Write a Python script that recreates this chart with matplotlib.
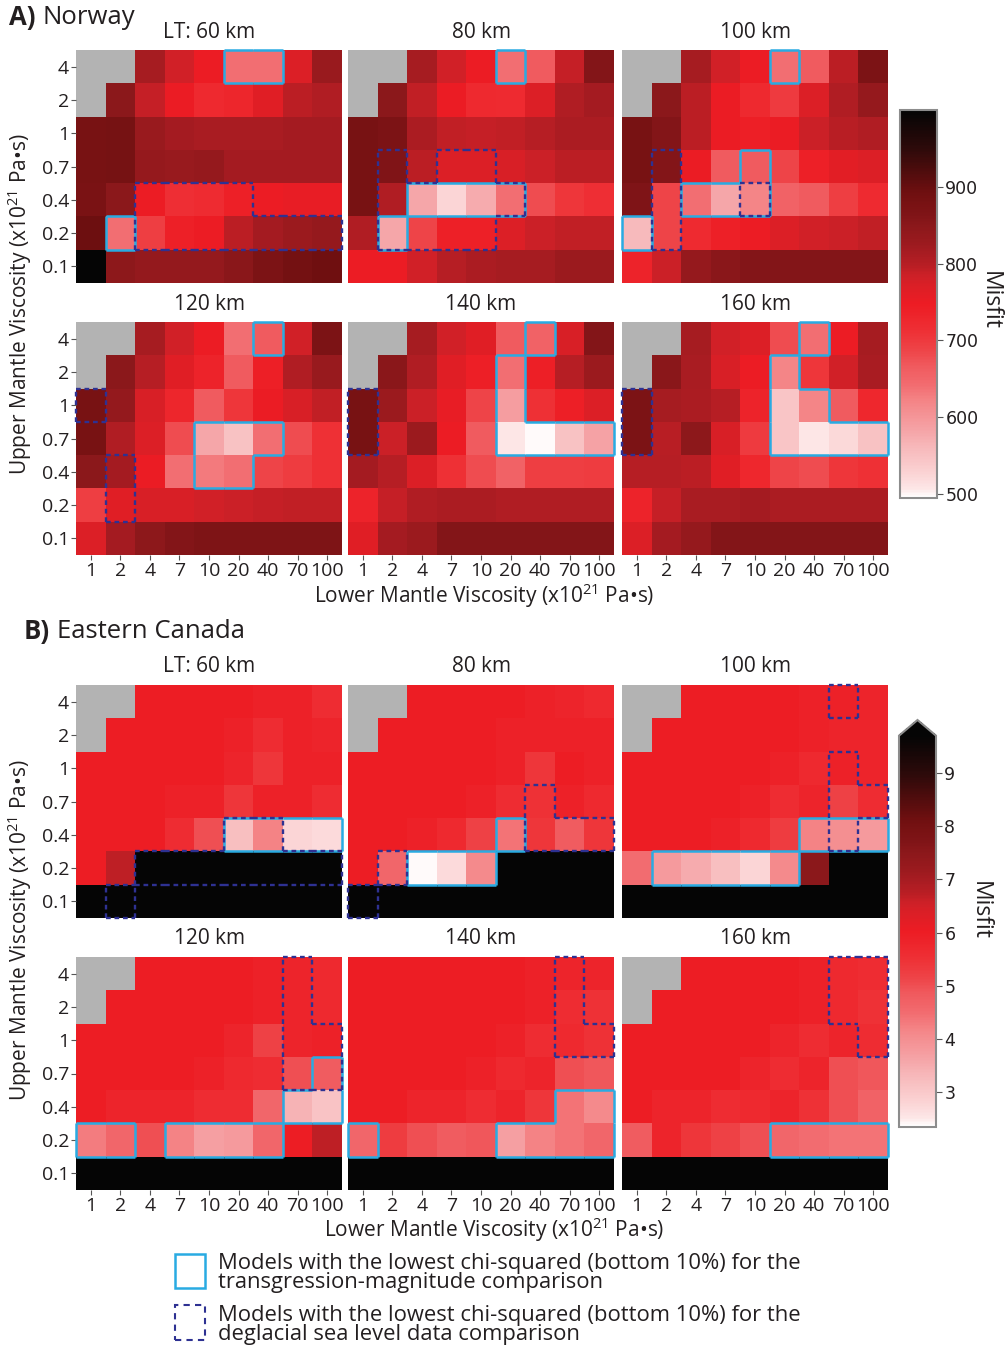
import numpy as np
import matplotlib
matplotlib.use('Agg')
import matplotlib.pyplot as plt
from matplotlib.colors import LinearSegmentedColormap, Normalize
from matplotlib.cm import ScalarMappable
from matplotlib.collections import LineCollection
from matplotlib.patches import Rectangle

plt.rcParams['font.family'] = ['Open Sans', 'DejaVu Sans']
plt.rcParams['mathtext.fontset'] = 'custom'
plt.rcParams['mathtext.rm'] = 'Open Sans'
plt.rcParams['mathtext.it'] = 'Open Sans:italic'
plt.rcParams['mathtext.bf'] = 'Open Sans:bold'

nan = np.nan

# axis categories
lower_visc = [1, 2, 4, 7, 10, 20, 40, 70, 100]
upper_visc = [0.1, 0.2, 0.4, 0.7, 1, 2, 4]
lower_labels = ['1', '2', '4', '7', '10', '20', '40', '70', '100']
upper_labels = ['0.1', '0.2', '0.4', '0.7', '1', '2', '4']
thickness = ['LT: 60 km', '80 km', '100 km', '120 km', '140 km', '160 km']

# misfit grids, rows from upper viscosity 4 (top) down to 0.1
norway_60 = [
    [nan, nan, 815, 780, 748, 640, 640, 770, 830],
    [nan, 850, 790, 750, 725, 730, 765, 795, 805],
    [878, 880, 830, 818, 812, 812, 812, 818, 818],
    [878, 880, 835, 832, 835, 818, 818, 818, 818],
    [875, 850, 748, 715, 720, 740, 748, 755, 755],
    [895, 640, 695, 740, 748, 795, 818, 828, 835],
    [1000, 848, 838, 838, 838, 852, 870, 885, 892]]
norway_80 = [
    [nan, nan, 815, 780, 748, 640, 665, 790, 858],
    [nan, 850, 792, 750, 725, 722, 770, 805, 818],
    [878, 870, 810, 792, 790, 792, 800, 810, 810],
    [878, 862, 795, 770, 770, 775, 785, 795, 795],
    [878, 805, 580, 525, 575, 640, 680, 705, 715],
    [805, 580, 688, 740, 740, 770, 785, 792, 792],
    [748, 748, 780, 800, 810, 816, 816, 828, 828]]
norway_100 = [
    [nan, nan, 815, 780, 748, 640, 665, 795, 870],
    [nan, 850, 795, 750, 725, 700, 770, 805, 835],
    [878, 858, 795, 750, 742, 750, 785, 798, 805],
    [878, 858, 750, 665, 665, 688, 740, 762, 770],
    [865, 688, 640, 580, 620, 655, 665, 695, 722],
    [560, 688, 722, 740, 748, 770, 780, 785, 792],
    [735, 785, 835, 852, 858, 858, 858, 858, 858]]
norway_120 = [
    [nan, nan, 815, 780, 748, 640, 665, 780, 870],
    [nan, 850, 800, 765, 735, 665, 742, 805, 832],
    [878, 838, 775, 730, 665, 705, 750, 775, 792],
    [878, 805, 770, 680, 580, 550, 640, 680, 712],
    [850, 818, 750, 640, 630, 640, 688, 698, 712],
    [695, 765, 775, 775, 780, 785, 790, 792, 792],
    [770, 818, 848, 858, 866, 866, 866, 866, 866]]
norway_140 = [
    [nan, nan, 815, 780, 765, 665, 655, 775, 858],
    [nan, 852, 805, 765, 742, 640, 742, 800, 828],
    [878, 828, 785, 755, 688, 590, 712, 742, 770],
    [878, 785, 828, 748, 665, 508, 497, 550, 585],
    [818, 800, 770, 712, 680, 655, 695, 695, 698],
    [735, 790, 805, 810, 810, 805, 805, 805, 805],
    [765, 818, 828, 858, 858, 858, 858, 858, 858]]
norway_160 = [
    [nan, nan, 815, 780, 770, 680, 640, 748, 815],
    [nan, 852, 812, 775, 748, 620, 705, 780, 812],
    [870, 815, 810, 800, 735, 545, 620, 665, 728],
    [870, 798, 848, 775, 700, 545, 508, 522, 550],
    [800, 800, 795, 765, 728, 688, 680, 705, 712],
    [735, 790, 812, 812, 818, 810, 810, 810, 810],
    [770, 818, 835, 858, 858, 858, 858, 858, 858]]

canada_60 = [
    [nan, nan, 6.0, 6.0, 6.0, 6.0, 5.9, 5.9, 5.6],
    [nan, 6.0, 6.0, 6.0, 6.0, 5.9, 5.6, 5.9, 5.8],
    [6.0, 6.0, 6.0, 6.0, 6.0, 5.8, 5.4, 5.9, 5.9],
    [6.0, 6.0, 6.0, 5.9, 5.9, 5.4, 5.9, 5.9, 5.6],
    [6.0, 6.0, 6.0, 5.6, 5.0, 3.2, 4.2, 2.8, 2.7],
    [6.0, 6.7, 10.0, 10.0, 10.0, 10.0, 10.0, 10.0, 10.0],
    [10.0, 10.0, 10.0, 10.0, 10.0, 10.0, 10.0, 10.0, 10.0]]
canada_80 = [
    [nan, nan, 6.0, 6.0, 6.0, 6.0, 5.9, 5.8, 5.7],
    [nan, 6.0, 6.0, 6.0, 6.0, 5.9, 5.9, 5.9, 5.9],
    [6.0, 6.0, 6.0, 6.0, 6.0, 5.9, 5.4, 6.0, 5.9],
    [6.0, 6.0, 6.0, 6.0, 5.9, 5.6, 5.5, 5.9, 5.7],
    [6.0, 6.0, 5.9, 5.7, 5.2, 4.4, 5.4, 4.8, 5.4],
    [6.0, 4.6, 2.4, 2.7, 4.1, 10.0, 10.0, 10.0, 10.0],
    [10.0, 10.0, 10.0, 10.0, 10.0, 10.0, 10.0, 10.0, 10.0]]
canada_100 = [
    [nan, nan, 6.0, 6.0, 6.0, 6.0, 5.9, 5.9, 5.8],
    [nan, 6.0, 6.0, 6.0, 6.0, 6.0, 5.9, 5.8, 5.8],
    [6.0, 6.0, 6.0, 6.0, 6.0, 5.9, 5.7, 5.9, 5.8],
    [6.0, 6.0, 6.0, 6.0, 5.9, 5.6, 5.8, 5.2, 5.6],
    [6.0, 6.0, 6.0, 5.9, 5.7, 5.3, 4.2, 4.0, 3.8],
    [4.5, 3.8, 3.5, 3.2, 2.8, 4.1, 7.5, 10.0, 10.0],
    [10.0, 10.0, 10.0, 10.0, 10.0, 10.0, 10.0, 10.0, 10.0]]
canada_120 = [
    [nan, nan, 6.0, 6.0, 6.0, 6.0, 5.9, 5.8, 5.7],
    [nan, 6.0, 6.0, 6.0, 6.0, 6.0, 5.9, 5.8, 5.7],
    [6.0, 6.0, 6.0, 6.0, 6.0, 5.8, 5.2, 5.8, 5.9],
    [6.0, 6.0, 6.0, 6.0, 5.9, 5.7, 5.6, 5.0, 4.8],
    [6.0, 5.8, 5.8, 5.8, 5.6, 5.6, 4.6, 3.4, 3.1],
    [4.3, 4.6, 5.0, 4.2, 3.7, 3.8, 4.6, 6.0, 6.7],
    [10.0, 10.0, 10.0, 10.0, 10.0, 10.0, 10.0, 10.0, 10.0]]
canada_140 = [
    [6.0, 6.0, 6.0, 6.0, 6.0, 6.0, 5.9, 5.8, 5.8],
    [6.0, 6.0, 6.0, 6.0, 6.0, 6.0, 5.9, 5.6, 5.5],
    [6.0, 6.0, 6.0, 6.0, 6.0, 5.9, 5.6, 5.7, 5.5],
    [6.0, 6.0, 6.0, 6.0, 5.9, 5.7, 5.8, 5.0, 4.9],
    [6.0, 6.0, 5.8, 5.8, 5.6, 5.8, 5.4, 4.4, 4.1],
    [4.6, 5.3, 5.0, 4.8, 4.9, 3.7, 4.2, 4.4, 4.6],
    [10.0, 10.0, 10.0, 10.0, 10.0, 10.0, 10.0, 10.0, 10.0]]
canada_160 = [
    [nan, nan, 6.0, 6.0, 6.0, 6.0, 5.9, 5.7, 5.6],
    [nan, 6.0, 6.0, 6.0, 6.0, 6.0, 5.9, 5.7, 5.5],
    [6.0, 6.0, 6.0, 6.0, 6.0, 5.8, 5.6, 5.8, 5.6],
    [6.0, 6.0, 6.0, 6.0, 5.8, 5.6, 5.8, 5.0, 4.9],
    [6.0, 5.8, 5.8, 5.6, 5.7, 5.8, 5.5, 5.0, 4.7],
    [4.8, 5.8, 5.4, 5.2, 5.0, 4.6, 4.5, 4.4, 4.4],
    [10.0, 10.0, 10.0, 10.0, 10.0, 10.0, 10.0, 10.0, 10.0]]

# best-fit models as (upper, lower) viscosity pairs
# solid = transgression-magnitude comparison, dashed = deglacial sea level
norway_solid = [
    [(4, 20), (4, 40), (0.2, 2)],
    [(4, 20), (0.4, 4), (0.4, 7), (0.4, 10), (0.4, 20), (0.2, 2)],
    [(4, 20), (0.7, 10), (0.4, 4), (0.4, 7), (0.4, 10), (0.2, 1)],
    [(4, 40), (0.7, 10), (0.7, 20), (0.7, 40), (0.4, 10), (0.4, 20)],
    [(4, 40), (2, 20), (1, 20), (0.7, 20), (0.7, 40), (0.7, 70), (0.7, 100)],
    [(4, 40), (2, 20), (1, 20), (1, 40), (0.7, 20), (0.7, 40), (0.7, 70), (0.7, 100)]]
norway_dashed = [
    [(0.4, 4), (0.4, 7), (0.4, 10), (0.4, 20), (0.2, 4), (0.2, 7), (0.2, 10),
     (0.2, 20), (0.2, 40), (0.2, 70), (0.2, 100)],
    [(0.7, 2), (0.7, 7), (0.7, 10), (0.4, 2), (0.4, 4), (0.4, 7), (0.4, 10),
     (0.4, 20), (0.2, 2), (0.2, 4), (0.2, 7), (0.2, 10)],
    [(0.7, 2), (0.4, 2), (0.2, 2), (0.4, 10)],
    [(1, 1), (0.4, 2), (0.2, 2)],
    [(1, 1), (0.7, 1)],
    [(1, 1), (0.7, 1)]]
canada_solid = [
    [(0.4, 20), (0.4, 40), (0.4, 70), (0.4, 100)],
    [(0.4, 20), (0.2, 4), (0.2, 7), (0.2, 10)],
    [(0.4, 40), (0.4, 70), (0.4, 100), (0.2, 2), (0.2, 4), (0.2, 7), (0.2, 10), (0.2, 20)],
    [(0.7, 100), (0.4, 70), (0.4, 100), (0.2, 1), (0.2, 2), (0.2, 7), (0.2, 10),
     (0.2, 20), (0.2, 40)],
    [(0.2, 1), (0.2, 20), (0.2, 40), (0.2, 70), (0.2, 100), (0.4, 70), (0.4, 100)],
    [(0.2, 20), (0.2, 40), (0.2, 70), (0.2, 100)]]
canada_dashed = [
    [(0.4, 20), (0.4, 40), (0.2, 4), (0.2, 7), (0.2, 10), (0.2, 20), (0.2, 40),
     (0.2, 70), (0.2, 100), (0.1, 2)],
    [(0.7, 40), (0.4, 40), (0.4, 70), (0.4, 100), (0.2, 2), (0.1, 1)],
    [(4, 70), (1, 70), (0.7, 70), (0.7, 100), (0.4, 70)],
    [(4, 70), (2, 70), (1, 70), (0.7, 70), (1, 100), (0.7, 100)],
    [(4, 70), (2, 70), (1, 70), (1, 100)],
    [(4, 70), (4, 100), (2, 70), (2, 100), (1, 100)]]

W, H = 1005, 1351
fig = plt.figure(figsize=(W / 100, H / 100), dpi=100)

cmap = LinearSegmentedColormap.from_list('misfit', [
    (0.00, '#ffffff'), (0.02, '#fde8e8'), (0.06, '#fbd4d5'), (0.13, '#f7b8ba'),
    (0.17, '#f5a5a8'), (0.25, '#f48486'), (0.29, '#f26c70'), (0.34, '#f05a5e'),
    (0.38, '#ee4448'), (0.43, '#ee3035'), (0.50, '#ed1c24'), (0.545, '#dc1f26'),
    (0.575, '#cc2027'), (0.60, '#b81e24'), (0.63, '#a81c22'), (0.66, '#9a1a1e'),
    (0.70, '#8c181b'), (0.73, '#801417'), (0.76, '#781213'), (0.79, '#6e0f10'),
    (0.90, '#2e0a0a'), (1.00, '#050505')])
cmap.set_bad('#b3b3b3')
cmap.set_over('#050505')

BLUE = '#29abe2'
NAVY = '#2e3192'
INK = '#231f20'


def px_rect(left, top, width, height):
    return [left / W, 1 - (top + height) / H, width / W, height / H]


def outline(ax, cells, **kw):
    idx = {(upper_visc.index(u), lower_visc.index(l)) for u, l in cells}
    segs = []
    for r, c in idx:
        if (r - 1, c) not in idx:
            segs.append([(c, r), (c + 1, r)])
        if (r + 1, c) not in idx:
            segs.append([(c, r + 1), (c + 1, r + 1)])
        if (r, c - 1) not in idx:
            segs.append([(c, r), (c, r + 1)])
        if (r, c + 1) not in idx:
            segs.append([(c + 1, r), (c + 1, r + 1)])
    lc = LineCollection(segs, clip_on=False, zorder=3, **kw)
    ax.add_collection(lc)


def panel(rect, grid, solid, dashed, norm, title, show_x, show_y):
    ax = fig.add_axes(rect)
    z = np.ma.masked_invalid(np.flipud(np.array(grid, dtype=float)))
    ax.set_facecolor('#b3b3b3')
    ax.pcolormesh(np.arange(10), np.arange(8), z, cmap=cmap, norm=norm)
    ax.set_xlim(0, 9)
    ax.set_ylim(0, 7)
    ax.set_xticks(np.arange(9) + 0.5)
    ax.set_yticks(np.arange(7) + 0.5)
    ax.set_xticklabels(lower_labels if show_x else [])
    ax.set_yticklabels(upper_labels if show_y else [])
    ax.tick_params(width=0.8, color='#555555', pad=1.5, labelsize=14, labelcolor=INK)
    ax.tick_params(axis='x', length=3.5 if show_x else 0)
    ax.tick_params(axis='y', length=3.5 if show_y else 0)
    for s in ax.spines.values():
        s.set_visible(False)
    outline(ax, solid, colors=BLUE, linewidths=1.8)
    outline(ax, dashed, colors=NAVY, linewidths=1.7, linestyles=[(0, (2.0, 1.6))])
    cx = rect[0] + rect[2] / 2
    fig.text(cx, rect[1] + rect[3] + 18 / H, title, ha='center', va='center',
             fontsize=15, color=INK)
    return ax


col_left = [76, 348, 622]
panel_w, panel_h = 266, 233
norway_norm = Normalize(495, 1000)
canada_norm = Normalize(2.35, 9.7)

norway_grids = [norway_60, norway_80, norway_100, norway_120, norway_140, norway_160]
canada_grids = [canada_60, canada_80, canada_100, canada_120, canada_140, canada_160]

for k in range(6):
    row, col = divmod(k, 3)
    top = [50, 322][row]
    panel(px_rect(col_left[col], top, panel_w, panel_h), norway_grids[k],
          norway_solid[k], norway_dashed[k], norway_norm, thickness[k],
          show_x=(row == 1), show_y=(col == 0))
    top = [685, 957][row]
    panel(px_rect(col_left[col], top, panel_w, panel_h), canada_grids[k],
          canada_solid[k], canada_dashed[k], canada_norm, thickness[k],
          show_x=(row == 1), show_y=(col == 0))

# colour bars
cax1 = fig.add_axes(px_rect(900, 110, 37, 388))
cb1 = fig.colorbar(ScalarMappable(norway_norm, cmap), cax=cax1, ticks=[500, 600, 700, 800, 900])
cax2 = fig.add_axes(px_rect(899, 720, 37, 407))
cb2 = fig.colorbar(ScalarMappable(canada_norm, cmap), cax=cax2, extend='max',
                   extendfrac=0.04, ticks=[3, 4, 5, 6, 7, 8, 9])
for cb in (cb1, cb2):
    cb.outline.set_edgecolor('#8c8c8c')
    cb.outline.set_linewidth(1.5)
    cb.ax.tick_params(length=4, width=0.8, color='#555555', labelsize=12.5,
                      labelcolor=INK, pad=2)
    for t in cb.ax.get_yticklabels():
        t.set_fontfamily('DejaVu Sans')
fig.text(990 / W, 1 - 300 / H, 'Misfit', rotation=-90, ha='center', va='center',
         fontsize=16.5, color=INK)
fig.text(980 / W, 1 - 910 / H, 'Misfit', rotation=-90, ha='center', va='center',
         fontsize=16.5, color=INK)

# axis titles
xl = 'Lower Mantle Viscosity (x10$^{21}$ Pa\u2022s)'
yl = 'Upper Mantle Viscosity (x10$^{21}$ Pa\u2022s)'
fig.text(484 / W, 1 - 596 / H, xl, ha='center', va='center', fontsize=15, color=INK)
fig.text(494 / W, 1 - 1230 / H, xl, ha='center', va='center', fontsize=15, color=INK)
fig.text(20 / W, 1 - 304 / H, yl, rotation=90, ha='center', va='center',
         fontsize=15, color=INK)
fig.text(20 / W, 1 - 930 / H, yl, rotation=90, ha='center', va='center',
         fontsize=15, color=INK)

# region headings
fig.text(9 / W, 1 - 18 / H, 'A)', fontsize=18.5, fontweight='bold', va='center', color=INK)
fig.text(42 / W, 1 - 18 / H, 'Norway', fontsize=18.5, va='center', color=INK)
fig.text(24 / W, 1 - 631 / H, 'B)', fontsize=18.5, fontweight='bold', va='center', color=INK)
fig.text(57 / W, 1 - 631 / H, 'Eastern Canada', fontsize=18.5, va='center', color=INK)

# legend
fig.patches.append(Rectangle((175 / W, 1 - 1288 / H), 30 / W, 34 / H, transform=fig.transFigure,
                             fill=False, edgecolor=BLUE, linewidth=1.8))
fig.patches.append(Rectangle((175 / W, 1 - 1340 / H), 30 / W, 35 / H, transform=fig.transFigure,
                             fill=False, edgecolor=NAVY, linewidth=1.5,
                             linestyle=(0, (3, 2.5))))
fig.text(218 / W, 1 - 1273 / H,
         'Models with the lowest chi-squared (bottom 10%) for the\ntransgression-magnitude comparison',
         va='center', fontsize=15.8, linespacing=0.88, color=INK)
fig.text(218 / W, 1 - 1325 / H,
         'Models with the lowest chi-squared (bottom 10%) for the\ndeglacial sea level data comparison',
         va='center', fontsize=15.8, linespacing=0.88, color=INK)

fig.savefig('out.png', dpi=100)
